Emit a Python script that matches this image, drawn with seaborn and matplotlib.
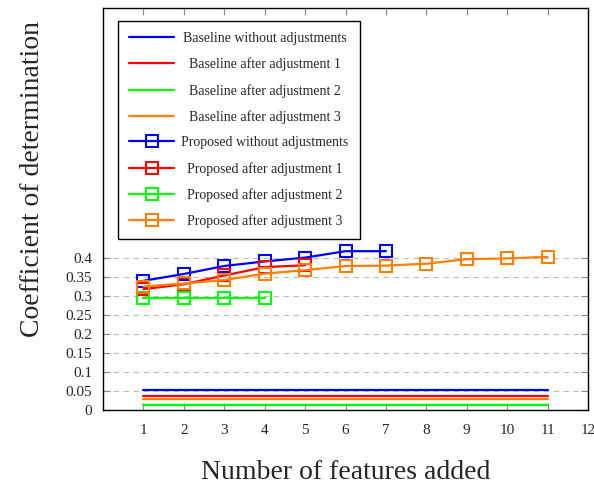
import numpy as np
import pandas as pd
import matplotlib
matplotlib.use("Agg")
import matplotlib.pyplot as plt
import seaborn as sns
from matplotlib.offsetbox import VPacker, DrawingArea

# Data
features_all = [1, 2, 3, 4, 5, 6, 7, 8, 9, 10, 11]

baseline_none = [0.052] * 11
baseline_adj1 = [0.036] * 11
baseline_adj2 = [0.014] * 11
baseline_adj3 = [0.030] * 11

proposed_none_x = [1, 2, 3, 4, 5, 6, 7]
proposed_none = [0.340, 0.358, 0.379, 0.391, 0.401, 0.418, 0.418]
proposed_adj1_x = [1, 2, 3, 4, 5]
proposed_adj1 = [0.318, 0.331, 0.354, 0.376, 0.381]
proposed_adj2_x = [1, 2, 3, 4]
proposed_adj2 = [0.294, 0.294, 0.294, 0.294]
proposed_adj3_x = [1, 2, 3, 4, 5, 6, 7, 8, 9, 10, 11]
proposed_adj3 = [0.325, 0.333, 0.342, 0.359, 0.368, 0.379, 0.380, 0.385, 0.397, 0.399, 0.403]

xticks = list(range(1, 13))
yticks = [0, 0.05, 0.1, 0.15, 0.2, 0.25, 0.3, 0.35, 0.4]
ytick_labels = ["0", "0.05", "0.1", "0.15", "0.2", "0.25", "0.3", "0.35", "0.4"]

BLUE, RED, GREEN, ORANGE = "#0000ff", "#ff0000", "#00ff00", "#ff8000"

sns.set_style("white")
plt.rcParams["font.family"] = ["Liberation Serif", "DejaVu Serif"]

fig, ax = plt.subplots(figsize=(5.94, 4.87), dpi=100)
fig.subplots_adjust(left=103 / 594, right=588 / 594, bottom=(487 - 410) / 487, top=(487 - 8) / 487)

baselines = [
    ("Baseline without adjustments", baseline_none, BLUE),
    ("Baseline after adjustment 1", baseline_adj1, RED),
    ("Baseline after adjustment 2", baseline_adj2, GREEN),
    ("Baseline after adjustment 3", baseline_adj3, ORANGE),
]
for label, vals, col in baselines:
    df = pd.DataFrame({"x": features_all, "y": vals})
    sns.lineplot(data=df, x="x", y="y", ax=ax, color=col, linewidth=1.6, label=label)

proposed = [
    ("Proposed without adjustments", proposed_none_x, proposed_none, BLUE),
    ("Proposed after adjustment 1", proposed_adj1_x, proposed_adj1, RED),
    ("Proposed after adjustment 2", proposed_adj2_x, proposed_adj2, GREEN),
    ("Proposed after adjustment 3", proposed_adj3_x, proposed_adj3, ORANGE),
]
for label, xs, vals, col in proposed:
    df = pd.DataFrame({"x": xs, "y": vals})
    sns.lineplot(data=df, x="x", y="y", ax=ax, color=col, linewidth=1.6,
                 marker="s", markersize=8, markerfacecolor="none",
                 markeredgecolor=col, markeredgewidth=1.5, label=label)

ax.set_xlim(0, 12)
ax.set_ylim(0, 1.058)
ax.set_xticks(xticks)
ax.set_xticklabels([str(t) for t in xticks])
ax.set_yticks(yticks)
ax.set_yticklabels(ytick_labels)

ax.grid(axis="y", color="#bbbbbb", linestyle=(0, (5, 4)), linewidth=0.8)
ax.grid(axis="x", visible=False)
ax.tick_params(axis="both", direction="in", length=5, color="#888888",
               top=True, right=True, bottom=True, left=True, labelsize=11)
ax.tick_params(axis="y", pad=8)
ax.tick_params(axis="x", pad=10)
for sp in ax.spines.values():
    sp.set_color("black")
    sp.set_linewidth(1.0)

ax.set_xlabel("Number of features added", fontsize=20)
ax.set_ylabel("Coefficient of determination", fontsize=20)
ax.xaxis.set_label_coords(0.5, -0.125)
ax.yaxis.set_label_coords(-0.12, 0.575)

leg = ax.legend(loc="upper left", bbox_to_anchor=(0.031, 0.968), fontsize=10,
                frameon=True, fancybox=False, edgecolor="black", framealpha=1,
                handlelength=3.25, labelspacing=0.9, borderpad=0.8, handletextpad=0.5,
                borderaxespad=0)
leg.get_frame().set_linewidth(1.0)

# centre the legend labels inside their column, like the reference
fig.canvas.draw()
renderer = fig.canvas.get_renderer()
widths = [t.get_window_extent(renderer).width * 72 / fig.dpi for t in leg.get_texts()]
maxw = max(widths)
column = leg._legend_handle_box.get_children()[0]
for item in column.get_children():
    handle_box, text_box = item.get_children()
    item._children = [handle_box,
                      VPacker(pad=0, sep=0, align="center",
                              children=[text_box, DrawingArea(maxw, 0)])]

plt.savefig("out.png", dpi=100)
